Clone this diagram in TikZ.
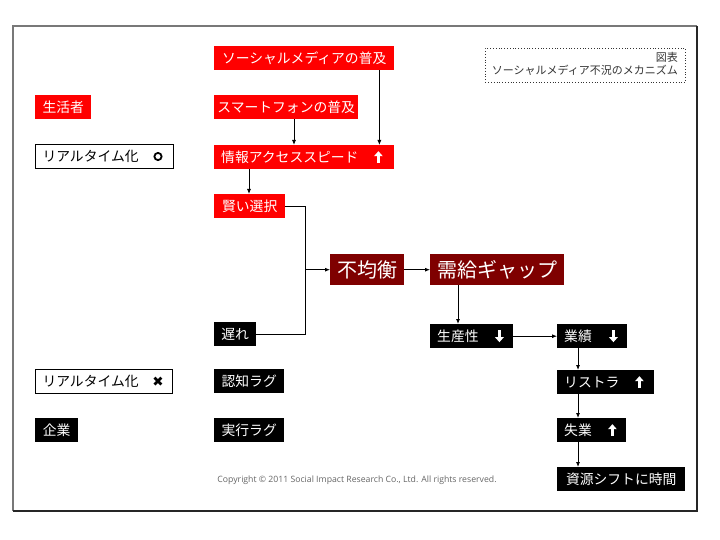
\documentclass[tikz,border=0pt]{standalone}
\usepackage{fontspec}
\setmainfont{Noto Sans CJK JP}
\newfontfamily\symf{DejaVu Sans}
\newfontfamily\copyf{Open Sans}
\usetikzlibrary{arrows.meta}
\definecolor{darkred}{RGB}{127,0,0}
\definecolor{framegray}{RGB}{120,120,120}
\begin{document}
\begin{tikzpicture}[x=1pt,y=-1pt,
  box/.style={rectangle, inner sep=0pt, minimum height=24pt, anchor=north west, font=\fontsize{13.8}{14}\selectfont, text=white},
  lbox/.style={inner xsep=7pt, align=left, text width=#1},
  redbox/.style={box, fill=red},
  blkbox/.style={box, fill=black},
  bigbox/.style={box, fill=darkred, minimum height=31pt, font=\fontsize{20}{20}\selectfont},
  wbox/.style={box, draw=black, line width=1pt, fill=white, text=black},
  conn/.style={-{Latex[length=5pt,width=4pt]}, line width=0.8pt},
  line/.style={line width=0.8pt},
  fatarr/.style={white, line width=2.4pt, -{Triangle[length=5pt,width=8.5pt]}}]
\useasboundingbox (0,0) rectangle (720,540);
\fill[white] (0,0) rectangle (720,540);
% frame
\draw[framegray, line width=1.2pt] (13,511) -- (13,26) -- (697,26);
\draw[black!85, line width=1.2pt] (697,26) -- (697,511) -- (13,511);
% title box
\node[draw=black!80, dotted, line width=0.8pt, anchor=north west, minimum width=200pt, minimum height=34pt, inner sep=0pt] (title) at (485,48) {};
\node[anchor=north east, align=right, inner sep=0pt, text=black!80, font=\fontsize{11}{13}\selectfont] (titletxt) at (678,52) {図表\\ソーシャルメディア不況のメカニズム};
% left column
\node[redbox, minimum width=56pt] (seikatsu) at (35,95) {生活者};
\node[wbox, lbox=124pt, minimum width=138pt] (rt1) at (35,144) {リアルタイム化};
\node[wbox, lbox=123pt, minimum width=137pt] (rt2) at (35,369) {リアルタイム化};
\node[blkbox, minimum width=43pt] (kigyo) at (35,418) {企業};
% middle column
\node[redbox, minimum width=180pt] (soc) at (214,46) {ソーシャルメディアの普及};
\node[redbox, minimum width=144pt] (smart) at (214,95) {スマートフォンの普及};
\node[redbox, lbox=166pt, minimum width=180pt] (info) at (214,145) {情報アクセススピード};
\node[redbox, minimum width=71pt] (kashi) at (214,194) {賢い選択};
\node[blkbox, minimum width=42pt] (okure) at (214,322) {遅れ};
\node[blkbox, minimum width=70pt] (ninchi) at (214,369) {認知ラグ};
\node[blkbox, minimum width=70pt] (jikko) at (214,418) {実行ラグ};
% center
\node[bigbox, minimum width=74pt] (fukin) at (330,254) {不均衡};
\node[bigbox, minimum width=134pt] (jukyu) at (430,254) {需給ギャップ};
\node[blkbox, lbox=69pt, minimum width=83pt] (seisan) at (430,324) {生産性};
% right column
\node[blkbox, lbox=56pt, minimum width=70pt] (gyoseki) at (557,324) {業績};
\node[blkbox, lbox=83pt, minimum width=97pt] (restra) at (557,370) {リストラ};
\node[blkbox, lbox=55pt, minimum width=69pt] (shitsu) at (557,418) {失業};
\node[blkbox, minimum width=128pt] (shigen) at (557,467) {資源シフトに時間};
% symbols inside boxes
\draw[line width=1.8pt] ([xshift=-16pt]rt1.east) circle (3.6pt);
\node[font=\symf\fontsize{13.5}{13.5}\selectfont, inner sep=0pt] (xmark) at ([xshift=-15pt]rt2.east) {✖};
\draw[fatarr] ([xshift=-16pt,yshift=-6pt]info.east) -- ([xshift=-16pt,yshift=6pt]info.east);
\draw[fatarr] ([xshift=-14pt,yshift=6pt]seisan.east) -- ([xshift=-14pt,yshift=-6pt]seisan.east);
\draw[fatarr] ([xshift=-14pt,yshift=6pt]gyoseki.east) -- ([xshift=-14pt,yshift=-6pt]gyoseki.east);
\draw[fatarr] ([xshift=-15pt,yshift=-6pt]restra.east) -- ([xshift=-15pt,yshift=6pt]restra.east);
\draw[fatarr] ([xshift=-14pt,yshift=-6pt]shitsu.east) -- ([xshift=-14pt,yshift=6pt]shitsu.east);
% copyright
\node[text=black!60, font=\copyf\fontsize{8.7}{10}\selectfont, inner sep=0pt] (copy) at (357,480) {Copyright © 2011 Social Impact Research Co., Ltd. All rights reserved.};
% connectors
\draw[conn] ([xshift=-15pt]soc.south east) -- ([xshift=-15pt]info.north east);
\draw[conn] ([xshift=80pt]smart.south west) -- ([xshift=80pt]info.north west);
\draw[conn] ([xshift=35pt]info.south west) -- ([xshift=35pt]kashi.north west);
\coordinate (jn) at ([xshift=20pt]kashi.east);
\draw[line] (kashi.east) -- (jn) |- (okure.east);
\draw[conn] (jn |- fukin.west) -- (fukin.west);
\draw[conn] (fukin.east) -- (jukyu.west);
\draw[conn] ([xshift=28pt]jukyu.south west) -- ([xshift=28pt]seisan.north west);
\draw[conn] (seisan.east) -- (gyoseki.west);
\draw[conn] ([xshift=21pt]gyoseki.south west) -- ([xshift=21pt]restra.north west);
\draw[conn] ([xshift=21pt]restra.south west) -- ([xshift=21pt]shitsu.north west);
\draw[conn] ([xshift=21pt]shitsu.south west) -- ([xshift=21pt]shigen.north west);
\end{tikzpicture}
\end{document}
